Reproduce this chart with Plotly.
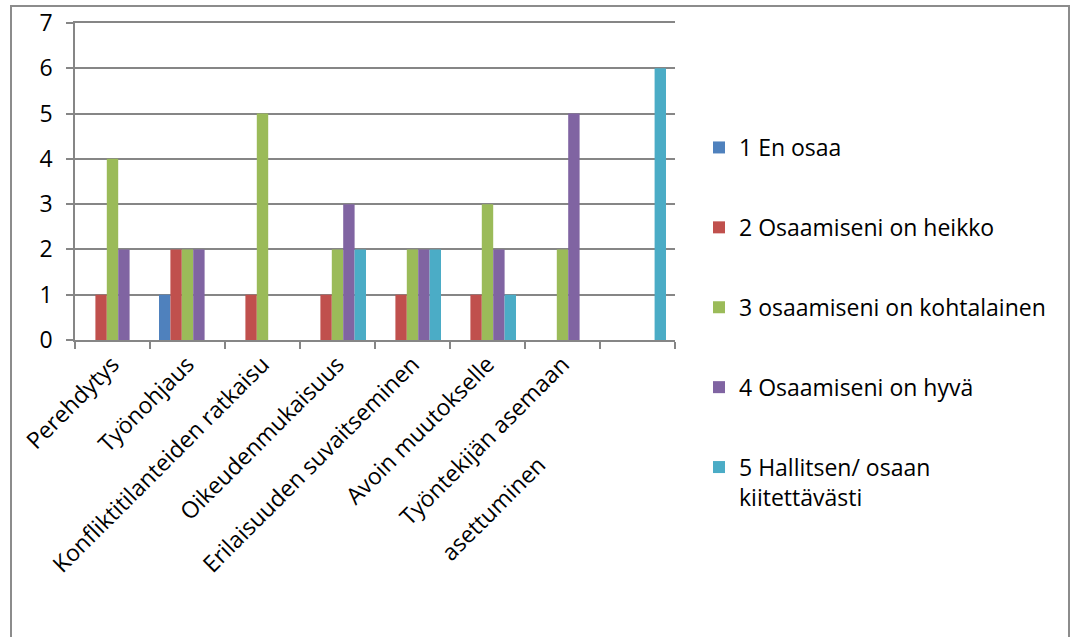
import plotly.graph_objects as go

categories = [
    "Perehdytys",
    "Työnohjaus",
    "Konfliktitilanteiden ratkaisu",
    "Oikeudenmukaisuus",
    "Erilaisuuden suvaitseminen",
    "Avoin muutokselle",
    "Työntekijän asemaan asettuminen",
    " ",
]
tick_labels = [
    "Perehdytys",
    "Työnohjaus",
    "Konfliktitilanteiden ratkaisu",
    "Oikeudenmukaisuus",
    "Erilaisuuden suvaitseminen",
    "Avoin muutokselle",
    "Työntekijän asemaan",
    "",
]
wrapped_line = "asettuminen"

series_names = [
    "1 En osaa",
    "2 Osaamiseni on heikko",
    "3 osaamiseni on kohtalainen",
    "4 Osaamiseni on hyvä",
    "5 Hallitsen/ osaan<br>kiitettävästi",
]
s1_en_osaa = [0, 1, 0, 0, 0, 0, 0, 0]
s2_heikko = [1, 2, 1, 1, 1, 1, 0, 0]
s3_kohtalainen = [4, 2, 5, 2, 2, 3, 2, 0]
s4_hyva = [2, 2, 0, 3, 2, 2, 5, 0]
s5_hallitsen = [0, 0, 0, 2, 2, 1, 0, 6]
series_values = [s1_en_osaa, s2_heikko, s3_kohtalainen, s4_hyva, s5_hallitsen]
colors = ["#4F81BD", "#C0504D", "#9BBB59", "#8064A2", "#4BACC6"]

FONT = "Open Sans, sans-serif"
FS = 23
W, H = 1071, 637
L, R, T, B = 75, 1071 - 675, 23, 637 - 340
pw, ph = W - L - R, H - T - B

fig = go.Figure()
for i, (name, vals, col) in enumerate(zip(series_names, series_values, colors)):
    fig.add_trace(go.Bar(
        x=categories, y=vals, name=name,
        marker=dict(color=col, line=dict(width=0)),
        legendgroup=f"g{i}",
    ))

def px_x(px):
    return (px - L) / pw

def px_y(py):
    return (H - B - py) / ph

fig.update_layout(
    width=W, height=H,
    margin=dict(l=L, r=R, t=T, b=B, autoexpand=False),
    paper_bgcolor="white", plot_bgcolor="white",
    barmode="group", bargap=0.24, bargroupgap=0,
    font=dict(family=FONT, size=FS, color="black"),
    showlegend=True,
    legend=dict(
        x=px_x(699), y=px_y(126), xanchor="left", yanchor="top",
        traceorder="grouped", tracegroupgap=47,
        font=dict(size=FS, family=FONT), valign="top",
        bgcolor="rgba(0,0,0,0)", maxheight=1000,
    ),
    xaxis=dict(
        type="category", automargin=False,
        tickmode="array", tickvals=categories, ticktext=tick_labels,
        tickangle=-45, ticks="outside", tickson="boundaries", ticklen=7,
        tickcolor="#868686", tickwidth=1.5,
        showline=True, linecolor="#868686", linewidth=1.5, mirror=True,
        showgrid=False, tickfont=dict(size=FS, family=FONT),
        range=[-0.5, 7.5],
    ),
    yaxis=dict(
        range=[0, 7], dtick=1, tick0=0, automargin=False,
        ticks="outside", ticklen=7, tickcolor="#868686", tickwidth=1.5,
        showline=True, linecolor="#868686", linewidth=1.5,
        showgrid=True, gridcolor="#868686", gridwidth=1.5,
        zeroline=False, tickfont=dict(size=FS, family=FONT),
        ticklabelstandoff=9,
    ),
    shapes=[dict(
        type="rect", xref="paper", yref="paper",
        x0=px_x(11), x1=px_x(1069), y0=px_y(645), y1=px_y(6),
        line=dict(color="#8C8C8C", width=2), fillcolor="rgba(0,0,0,0)",
        layer="below",
    )],
    annotations=[dict(
        x=categories[6], y=0, xref="x", yref="y",
        text=wrapped_line, textangle=-45, showarrow=False,
        xanchor="right", yanchor="top",
        xshift=-8, yshift=-106,
        font=dict(size=FS, family=FONT),
    )],
)

fig.write_html("out.html")
